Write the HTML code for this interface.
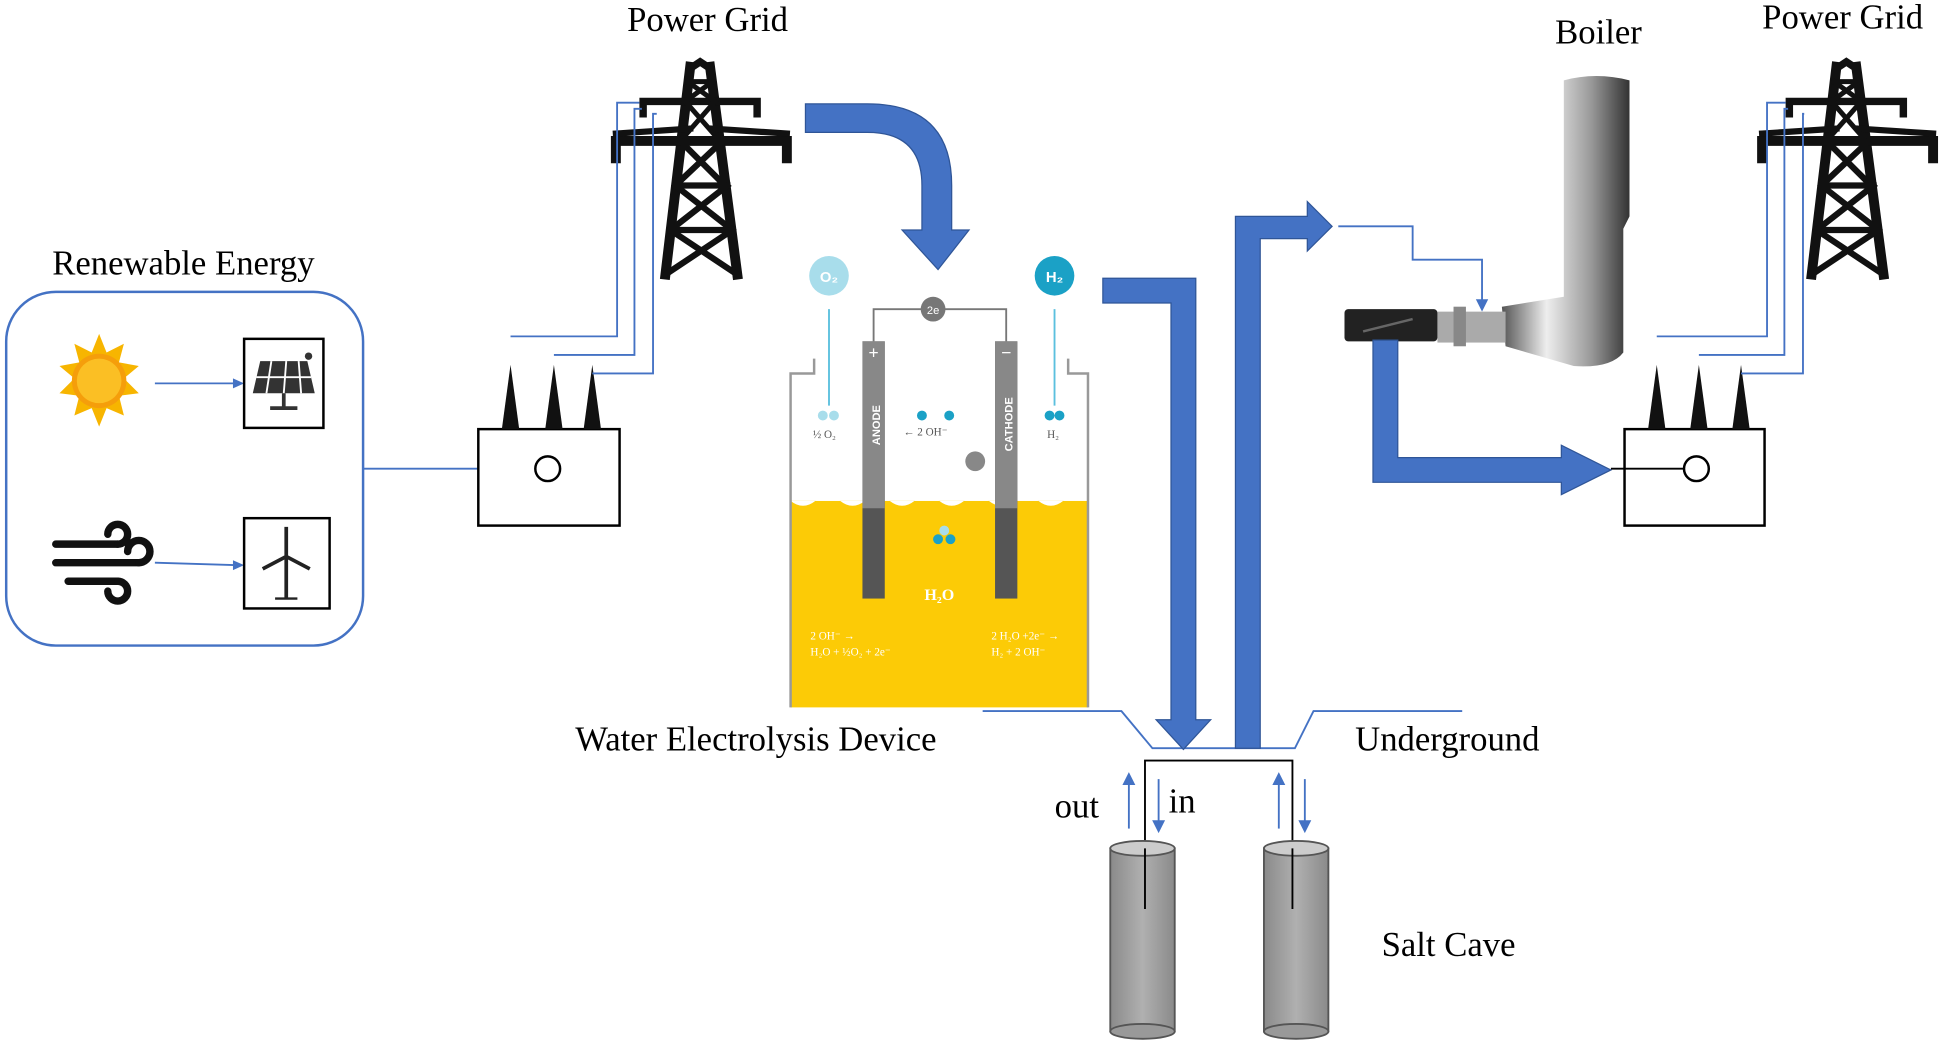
<!DOCTYPE html>
<html><head><meta charset="utf-8"><style>
html,body{margin:0;padding:0;background:#fff;width:1943px;height:1045px;overflow:hidden}
svg{display:block}
text{font-family:"Liberation Serif",serif;fill:#000}
</style></head><body>
<svg width="1943" height="1045" viewBox="0 0 1568 845" preserveAspectRatio="none" xmlns="http://www.w3.org/2000/svg">
<defs>
<g id="tower" stroke="#111" fill="none" stroke-linecap="square">
 <path d="M64,4 L70,0 L76,4" stroke-width="6"/>
 <path d="M62,4 L42,172 M78,4 L100,172" stroke-width="8"/>
 <path d="M24,32 H116 M24,32 V42 M116,32 V42" stroke-width="6"/>
 <path d="M2,64 H140 M2,64 V78 M140,64 V78" stroke-width="8"/>
 <path d="M2,58 L62,54 M140,58 L80,54" stroke-width="5"/>
 <path d="M60,16 H80 M60,16 L82,32 M80,16 L58,32 M58,32 L86,64 M82,32 L54,64" stroke-width="4"/>
 <path d="M54,64 L90,100 M88,64 L50,100 M50,100 H92 M50,100 L96,136 M92,100 L46,136 M46,136 H96 M46,136 L100,172 M96,136 L42,172" stroke-width="5"/>
</g>
<linearGradient id="boil" x1="0" x2="1"><stop offset="0" stop-color="#555"/><stop offset=".35" stop-color="#eee"/><stop offset=".7" stop-color="#999"/><stop offset="1" stop-color="#333"/></linearGradient>
<linearGradient id="cyl" x1="0" x2="1"><stop offset="0" stop-color="#8a8a8a"/><stop offset=".5" stop-color="#b0b0b0"/><stop offset="1" stop-color="#8a8a8a"/></linearGradient>
</defs>

<text x="571" y="25" font-size="28" text-anchor="middle">Power Grid</text>
<text x="1487" y="23" font-size="28" text-anchor="middle">Power Grid</text>
<text x="1290" y="35" font-size="28" text-anchor="middle">Boiler</text>
<text x="148" y="222" font-size="28" text-anchor="middle">Renewable Energy</text>
<text x="610" y="607" font-size="28" text-anchor="middle">Water Electrolysis Device</text>
<text x="1168" y="607" font-size="28" text-anchor="middle">Underground</text>
<text x="869" y="661" font-size="28" text-anchor="middle">out</text>
<text x="954" y="657" font-size="28" text-anchor="middle">in</text>
<text x="1169" y="773" font-size="28" text-anchor="middle">Salt Cave</text>

<use href="#tower" x="495" y="50"/>
<use href="#tower" x="1420" y="50"/>

<rect x="5" y="236" width="288" height="286" rx="40" fill="none" stroke="#4472C4" stroke-width="2"/>
<polygon points="80,270 86,285 100,278 96,293 112,296 100,306 112,318 96,320 100,336 86,330 80,345 74,330 60,336 64,320 48,318 60,306 48,296 64,293 60,278 74,285" fill="#F7B500"/>
<circle cx="80" cy="308" r="22" fill="#F59E0B"/>
<circle cx="80" cy="308" r="18" fill="#FBBF24"/>
<line x1="125" y1="310" x2="192" y2="310" stroke="#4472C4" stroke-width="1.5"/>
<polygon points="197,310 188,306 188,314" fill="#4472C4"/>
<rect x="197" y="274" width="64" height="72" fill="#fff" stroke="#000" stroke-width="2"/>
<polygon points="210,292 248,292 254,318 204,318" fill="#333"/>
<path d="M219,292 L215,318 M231,292 L229,318 M241,292 L243,318 M207,305 L251,305" stroke="#fff" stroke-width="1.5"/>
<path d="M229,318 V330 M218,330 H240" stroke="#333" stroke-width="3"/>
<circle cx="249" cy="288" r="3" fill="#333"/>
<path d="M45,440 H95 M45,455 H112 M55,470 H95" stroke="#111" stroke-width="6" stroke-linecap="round"/>
<path d="M95,440 a8,8 0 1 0 -8,-8 M112,455 a9,9 0 1 0 -9,-9 M95,470 a8,8 0 1 1 -8,8" stroke="#111" stroke-width="6" fill="none" stroke-linecap="round"/>
<line x1="125" y1="455" x2="192" y2="457" stroke="#4472C4" stroke-width="1.5"/>
<polygon points="197,457 188,453 188,461" fill="#4472C4"/>
<rect x="197" y="419" width="69" height="73" fill="#fff" stroke="#000" stroke-width="2"/>
<path d="M231,450 V484 M231,450 L231,426 M231,450 L212,460 M231,450 L250,460" stroke="#222" stroke-width="3"/>
<path d="M222,484 H240" stroke="#222" stroke-width="2"/>

<line x1="293" y1="379" x2="432" y2="379" stroke="#4472C4" stroke-width="1.5"/>
<rect x="386" y="347" width="114" height="78" fill="#fff" stroke="#000" stroke-width="2"/>
<circle cx="442" cy="379" r="10" fill="#fff" stroke="#000" stroke-width="2"/>
<polygon points="405,347 419,347 412,295" fill="#111"/>
<polygon points="440,347 454,347 447,295" fill="#111"/>
<polygon points="471,347 485,347 478,295" fill="#111"/>
<path d="M412,272 H498 V83 H516 M447,287 H512 V88 H518 M478,302 H527 V92 H530" stroke="#4472C4" stroke-width="1.5" fill="none"/>

<rect x="1311" y="347" width="113" height="78" fill="#fff" stroke="#000" stroke-width="2"/>
<circle cx="1369" cy="379" r="10" fill="#fff" stroke="#000" stroke-width="2"/>
<line x1="1300" y1="379" x2="1359" y2="379" stroke="#000" stroke-width="1.5"/>
<polygon points="1330,347 1344,347 1337,295" fill="#111"/>
<polygon points="1364,347 1378,347 1371,295" fill="#111"/>
<polygon points="1398,347 1412,347 1405,295" fill="#111"/>
<path d="M1337,272 H1426 V83 H1441 M1371,287 H1440 V88 H1443 M1405,302 H1455 V92 H1456" stroke="#4472C4" stroke-width="1.5" fill="none"/>

<path d="M650,84 H700 Q768,84 768,150 V186 H782 L757,218 L728,186 H744 V150 Q744,107 700,107 H650 Z" fill="#4472C4" stroke="#2F5597" stroke-width="1"/>

<rect x="638" y="405" width="240" height="167" fill="#FCCB06"/>
<path d="M638,405 q10,8 20,0 t20,0 t20,0 t20,0 t20,0 t20,0 t20,0 t20,0 t20,0 t20,0 t20,0 t20,0" fill="#fff"/>
<path d="M657,290 V302 H638 V572 M862,290 V302 H878 V572" stroke="#999" stroke-width="2" fill="none"/>
<rect x="696" y="276" width="18" height="208" fill="#555"/>
<rect x="803" y="276" width="18" height="208" fill="#555"/>
<rect x="696" y="276" width="18" height="135" fill="#888"/>
<rect x="803" y="276" width="18" height="135" fill="#888"/>
<text x="705" y="290" font-size="14" text-anchor="middle" style="fill:#fff;font-family:'Liberation Sans',sans-serif">+</text>
<text x="812" y="290" font-size="14" text-anchor="middle" style="fill:#fff;font-family:'Liberation Sans',sans-serif">−</text>
<text transform="translate(710,360) rotate(-90)" font-size="9" style="fill:#fff;font-family:'Liberation Sans',sans-serif;font-weight:bold">ANODE</text>
<text transform="translate(817,365) rotate(-90)" font-size="9" style="fill:#fff;font-family:'Liberation Sans',sans-serif;font-weight:bold">CATHODE</text>
<path d="M705,276 V250 H812 V276" stroke="#777" stroke-width="1.5" fill="none"/>
<circle cx="753" cy="250" r="10" fill="#777"/>
<text x="753" y="254" font-size="9" text-anchor="middle" style="fill:#fff;font-family:'Liberation Sans',sans-serif">2e</text>
<circle cx="787" cy="373" r="8" fill="#888"/>
<circle cx="669" cy="223" r="16" fill="#A8DDEB"/>
<text x="669" y="228" font-size="12" text-anchor="middle" style="fill:#fff;font-family:'Liberation Sans',sans-serif;font-weight:bold">O₂</text>
<circle cx="851" cy="223" r="16" fill="#1BA1C6"/>
<text x="851" y="228" font-size="12" text-anchor="middle" style="fill:#fff;font-family:'Liberation Sans',sans-serif;font-weight:bold">H₂</text>
<path d="M669,328 V250 M851,328 V250" stroke="#5BC0DE" stroke-width="1.5"/>
<circle cx="664" cy="336" r="4" fill="#A8DDEB"/><circle cx="673" cy="336" r="4" fill="#A8DDEB"/>
<circle cx="847" cy="336" r="4" fill="#1BA1C6"/><circle cx="855" cy="336" r="4" fill="#1BA1C6"/>
<circle cx="744" cy="336" r="4" fill="#1BA1C6"/><circle cx="766" cy="336" r="4" fill="#1BA1C6"/>
<circle cx="757" cy="436" r="4" fill="#1BA1C6"/><circle cx="767" cy="436" r="4" fill="#1BA1C6"/><circle cx="762" cy="429" r="4" fill="#A8DDEB"/>
<g style="font-family:'Liberation Sans',sans-serif" font-size="9">
<text x="656" y="354" style="fill:#555">½ O₂</text>
<text x="729" y="352" style="fill:#555">← 2 OH⁻</text>
<text x="845" y="354" style="fill:#555">H₂</text>
<text x="746" y="485" font-size="13" style="fill:#fff;font-weight:bold">H₂O</text>
<text x="654" y="517" style="fill:#fff">2 OH⁻ →</text>
<text x="654" y="530" style="fill:#fff">H₂O + ½O₂ + 2e⁻</text>
<text x="800" y="517" style="fill:#fff">2 H₂O +2e⁻ →</text>
<text x="800" y="530" style="fill:#fff">H₂ + 2 OH⁻</text>
</g>

<path d="M793,575 H905 L930,605 H1045 L1060,575 H1180" stroke="#4472C4" stroke-width="1.5" fill="none"/>

<path d="M890,225 H965 V582 H977 L955,606 L933,582 H945 V245 H890 Z" fill="#4472C4" stroke="#2F5597" stroke-width="1"/>
<path d="M997,605 V175 H1055 V163 L1075,183 L1055,203 V193 H1017 V605 Z" fill="#4472C4" stroke="#2F5597" stroke-width="1"/>

<path d="M924,735 V615 H1043 V735" stroke="#000" stroke-width="1.5" fill="none"/>
<rect x="896" y="686" width="52" height="148" fill="url(#cyl)" stroke="#555" stroke-width="1.5"/>
<ellipse cx="922" cy="686" rx="26" ry="6" fill="#ccc" stroke="#555" stroke-width="1.5"/>
<ellipse cx="922" cy="834" rx="26" ry="6" fill="#999" stroke="#555" stroke-width="1.5"/>
<rect x="1020" y="686" width="52" height="148" fill="url(#cyl)" stroke="#555" stroke-width="1.5"/>
<ellipse cx="1046" cy="686" rx="26" ry="6" fill="#ccc" stroke="#555" stroke-width="1.5"/>
<ellipse cx="1046" cy="834" rx="26" ry="6" fill="#999" stroke="#555" stroke-width="1.5"/>
<path d="M924,686 V735 M1043,686 V735" stroke="#000" stroke-width="1.5"/>
<g stroke="#4472C4" stroke-width="1.5" fill="#4472C4">
<line x1="911" y1="670" x2="911" y2="632"/><polygon points="911,626 907,634 915,634"/>
<line x1="935" y1="630" x2="935" y2="666"/><polygon points="935,672 931,664 939,664"/>
<line x1="1032" y1="670" x2="1032" y2="632"/><polygon points="1032,626 1028,634 1036,634"/>
<line x1="1053" y1="630" x2="1053" y2="666"/><polygon points="1053,672 1049,664 1057,664"/>
</g>

<path d="M1080,183 H1140 V210 H1196 V245" stroke="#4472C4" stroke-width="1.5" fill="none"/>
<polygon points="1196,252 1191,242 1201,242" fill="#4472C4"/>
<path d="M1262,65 Q1288,58 1315,65 V175 L1310,185 V285 Q1300,298 1270,296 L1215,280 L1212,248 L1262,240 V185 Z" fill="url(#boil)"/>
<rect x="1160" y="252" width="55" height="25" fill="#aaa"/>
<rect x="1173" y="248" width="10" height="32" fill="#888"/>
<rect x="1085" y="250" width="75" height="26" fill="#222" rx="3"/>
<path d="M1100,268 L1140,258" stroke="#666" stroke-width="2"/>
<path d="M1108,275 V390 H1260 V400 L1300,380 L1260,360 V370 H1128 V275 Z" fill="#4472C4" stroke="#2F5597" stroke-width="1"/>
</svg>
</body></html>
